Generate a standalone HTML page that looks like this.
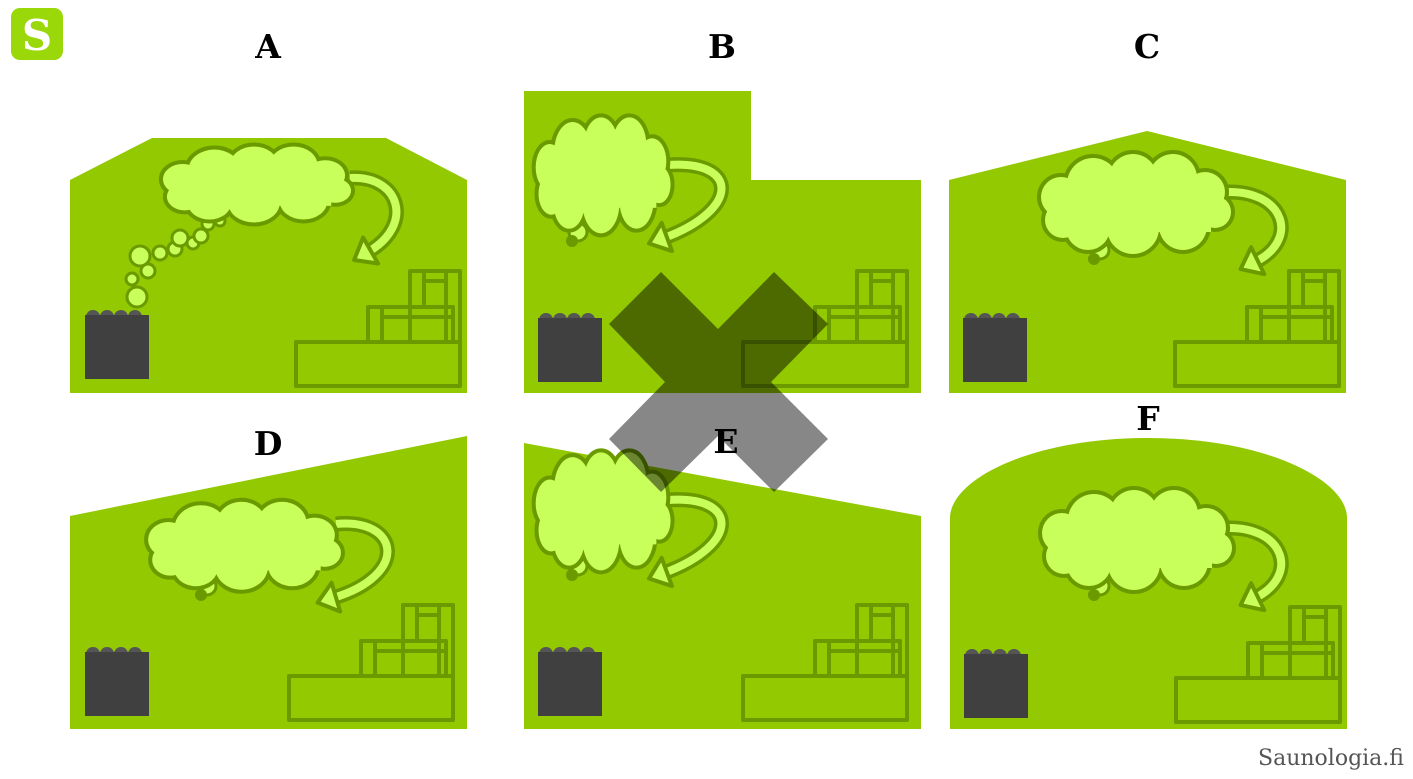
<!DOCTYPE html>
<html><head><meta charset="utf-8"><style>
html,body{margin:0;padding:0;background:#fff;}
svg{display:block;}
.lbl{font-family:"DejaVu Serif","Liberation Serif",serif;font-weight:bold;font-size:33px;fill:#000;text-anchor:middle;}
</style></head><body>
<svg id="s" width="1413" height="779" viewBox="0 0 1413 779" xmlns="http://www.w3.org/2000/svg">
<rect x="11" y="8" width="52" height="52" rx="9" fill="#9ad80a"/>
<text x="37" y="50" font-family="DejaVu Serif,serif" font-weight="bold" font-size="42" fill="#fff" text-anchor="middle">S</text>
<text class="lbl" x="268" y="58">A</text>
<text class="lbl" x="722" y="58">B</text>
<text class="lbl" x="1147" y="58">C</text>
<text class="lbl" x="268" y="455">D</text>
<text class="lbl" x="1148" y="430">F</text>
<g fill="#92c900">
<polygon points="70,180 152,138 386,138 467,180 467,393 70,393"/>
<polygon points="524,91 751,91 751,180 921,180 921,393 524,393"/>
<polygon points="949,180 1147,131 1346,180 1346,393 949,393"/>
<polygon points="70,516 467,436 467,729 70,729"/>
<polygon points="524,443 921,516 921,729 524,729"/>
<path d="M950,729 V518 C950,480 1030,438 1148,438 C1266,438 1347,480 1347,518 V729 Z"/>
</g>
<g id="dyn"></g>
<text x="1331" y="765" font-family="DejaVu Serif,serif" font-size="22" fill="#555" text-anchor="middle">Saunologia.fi</text>
</svg>
<script>
var D="#6a9a00",L="#c8ff5a",o="";
function cloud(x,y,w,h){
 var c=[[28,45,20],[30,68,18],[60,32,26],[100,26,24],[140,26,24],[172,40,20],[182,60,16],[150,74,24],[100,76,26],[55,76,22]];
 var a="",b="";
 c.forEach(function(k){var cx=x+k[0]*w/200,cy=y+k[1]*h/100,rx=k[2]*w/200,ry=k[2]*h/100;
  a+='<ellipse cx="'+cx+'" cy="'+cy+'" rx="'+rx+'" ry="'+ry+'" fill="'+L+'" stroke="'+D+'" stroke-width="8"/>';
  b+='<ellipse cx="'+cx+'" cy="'+cy+'" rx="'+rx+'" ry="'+ry+'" fill="'+L+'"/>';});
 b+='<rect x="'+(x+28*w/200)+'" y="'+(y+30*h/100)+'" width="'+(150*w/200)+'" height="'+(50*h/100)+'" fill="'+L+'"/>';
 o+=a+b;
}
function arrow(sx,sy,ax,ay,bx,by,ex,ey){
 var p='M'+sx+','+sy+' C'+ax+','+ay+' '+bx+','+by+' '+ex+','+ey;
 o+='<path d="'+p+'" fill="none" stroke="'+D+'" stroke-width="15"/>';
 o+='<path d="'+p+'" fill="none" stroke="'+L+'" stroke-width="8"/>';
 var dx=ex-bx,dy=ey-by,l=Math.hypot(dx,dy);dx/=l;dy/=l;
 var tx=ex+dx*16,ty=ey+dy*16,px=-dy,py=dx;
 o+='<polygon points="'+tx+','+ty+' '+(ex+px*15-dx*3)+','+(ey+py*15-dy*3)+' '+(ex-px*15-dx*3)+','+(ey-py*15-dy*3)+'" fill="'+L+'" stroke="'+D+'" stroke-width="4" stroke-linejoin="round"/>';
}
function stove(x,y){
 for(var i=0;i<4;i++)o+='<circle cx="'+(x+8+i*14)+'" cy="'+(y+2)+'" r="7" fill="#555"/>';
 o+='<rect x="'+x+'" y="'+y+'" width="64" height="64" fill="#404040"/>';
}
function bench(x,y){
 var s='fill="none" stroke="'+D+'" stroke-width="4" stroke-linejoin="round"';
 o+='<rect x="'+x+'" y="'+(y+71)+'" width="164" height="44" '+s+'/>';
 o+='<rect x="'+(x+72)+'" y="'+(y+36)+'" width="85" height="35" '+s+'/>';
 o+='<line x1="'+(x+86)+'" y1="'+(y+36)+'" x2="'+(x+86)+'" y2="'+(y+71)+'" stroke="'+D+'" stroke-width="4"/>';
 o+='<line x1="'+(x+86)+'" y1="'+(y+46)+'" x2="'+(x+157)+'" y2="'+(y+46)+'" stroke="'+D+'" stroke-width="4"/>';
 o+='<rect x="'+(x+114)+'" y="'+y+'" width="50" height="71" '+s+'/>';
 o+='<line x1="'+(x+128)+'" y1="'+y+'" x2="'+(x+128)+'" y2="'+(y+36)+'" stroke="'+D+'" stroke-width="4"/>';
 o+='<line x1="'+(x+150)+'" y1="'+y+'" x2="'+(x+150)+'" y2="'+(y+71)+'" stroke="'+D+'" stroke-width="4"/>';
 o+='<line x1="'+(x+128)+'" y1="'+(y+10)+'" x2="'+(x+150)+'" y2="'+(y+10)+'" stroke="'+D+'" stroke-width="4"/>';
}
function tail(x,y){
 o+='<circle cx="'+x+'" cy="'+y+'" r="9" fill="'+L+'" stroke="'+D+'" stroke-width="3"/>';
 o+='<circle cx="'+(x-6)+'" cy="'+(y+9)+'" r="6" fill="'+D+'"/>';
}
[[137,297,10],[132,279,6],[148,271,7],[140,256,10],[160,253,7],[175,249,7],[180,238,8],[193,243,6],[201,236,7],[208,224,6],[220,221,5]].forEach(function(k){
 o+='<circle cx="'+k[0]+'" cy="'+k[1]+'" r="'+k[2]+'" fill="'+L+'" stroke="'+D+'" stroke-width="3"/>';});
arrow(350,178,400,175,415,225,368,252);cloud(155,145,198,76);stove(85,315);bench(296,271);
tail(578,232);arrow(668,165,740,160,740,210,664,238);cloud(530,115,142,116);stove(538,318);bench(743,271);
tail(1100,250);arrow(1226,192,1285,190,1300,240,1255,262);cloud(1033,152,200,100);stove(963,318);bench(1175,271);
tail(207,586);arrow(336,524,400,518,410,575,333,598);cloud(140,500,203,88);stove(85,652);bench(289,605);
tail(578,566);arrow(668,500,740,495,740,545,664,573);cloud(530,450,142,118);stove(538,652);bench(743,605);
tail(1100,586);arrow(1226,528,1285,526,1300,576,1255,598);cloud(1034,488,200,100);stove(964,654);bench(1176,607);
o+='<g opacity="0.47"><path d="M609,324 L661,272 L718,329 L774,272 L828,324 L771,382 L828,439 L774,492 L718,436 L661,492 L609,439 L665,382 Z" fill="#000"/></g>';
o+='<text class="lbl" x="726" y="453">E</text>';
document.getElementById("dyn").innerHTML=o;
</script>
</body></html>
